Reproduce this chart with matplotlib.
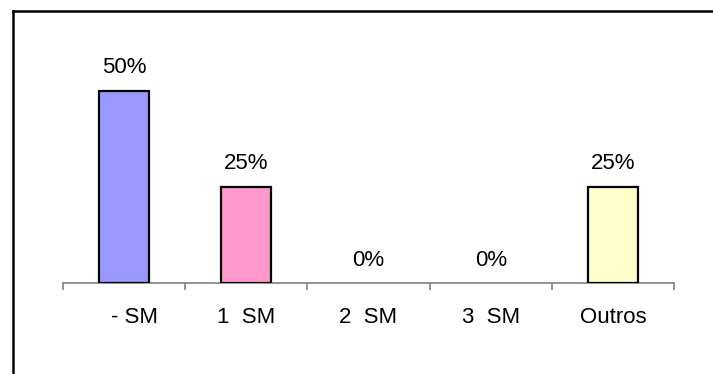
import matplotlib
matplotlib.use("Agg")
import matplotlib.pyplot as plt
import matplotlib.transforms as mtransforms
from matplotlib.lines import Line2D
from matplotlib.ticker import FixedLocator, NullFormatter

categories = ["- SM", "1  SM", "2  SM", "3  SM", "Outros"]
values = [50, 25, 0, 0, 25]
labels = ["50%", "25%", "0%", "0%", "25%"]
colors = ["#9999FF", "#FF99CC", "#FFFFFF", "#FFFFFF", "#FFFFCC"]

plt.rcParams['font.family'] = ['Liberation Sans', 'DejaVu Sans']

W, H = 713, 374
fig = plt.figure(figsize=(W / 100, H / 100), dpi=100)
fig.patch.set_facecolor("white")

x0, x1 = 63, 674
y_axis, y_top = 283, 52
ax = fig.add_axes([x0 / W, 1 - y_axis / H, (x1 - x0) / W, (y_axis - y_top) / H])

xs = list(range(len(categories)))
for xi, v, c in zip(xs, values, colors):
    if v > 0:
        ax.bar(xi, v, width=0.41, color=c, edgecolor="black", linewidth=1.6, zorder=3)
for xi, v, lab in zip(xs, values, labels):
    ax.annotate(lab, (xi, v), xytext=(0, 12.6), textcoords="offset points",
                ha="center", va="baseline", fontsize=16, color="black")

ax.set_xlim(-0.5, len(categories) - 0.5)
ax.set_ylim(0, 60)
for s in ["top", "right", "left"]:
    ax.spines[s].set_visible(False)
ax.spines["bottom"].set_color("#808080")
ax.spines["bottom"].set_linewidth(1.2)
ax.set_yticks([])

ax.set_xticks(xs)
ax.set_xticklabels(categories, fontsize=16)
ax.tick_params(axis="x", which="major", length=0, pad=17)
ax.xaxis.set_minor_locator(FixedLocator([i - 0.5 for i in range(len(categories) + 1)]))
ax.xaxis.set_minor_formatter(NullFormatter())
ax.tick_params(axis="x", which="minor", length=5.2, width=1.2, color="#808080", direction="out")

# shift first label slightly to the right as in the reference
lbl0 = ax.get_xticklabels()[0]
lbl0.set_transform(lbl0.get_transform() + mtransforms.ScaledTranslation(10 / 100, 0, fig.dpi_scale_trans))

# outer border (left and top only visible)
bx = 12.5 / W
by = 1 - 11 / H
fig.add_artist(Line2D([bx, bx], [0, by], transform=fig.transFigure, color="black", linewidth=1.8))
fig.add_artist(Line2D([bx, 1], [by, by], transform=fig.transFigure, color="black", linewidth=1.8))

fig.savefig("out.png", dpi=100, facecolor="white")
